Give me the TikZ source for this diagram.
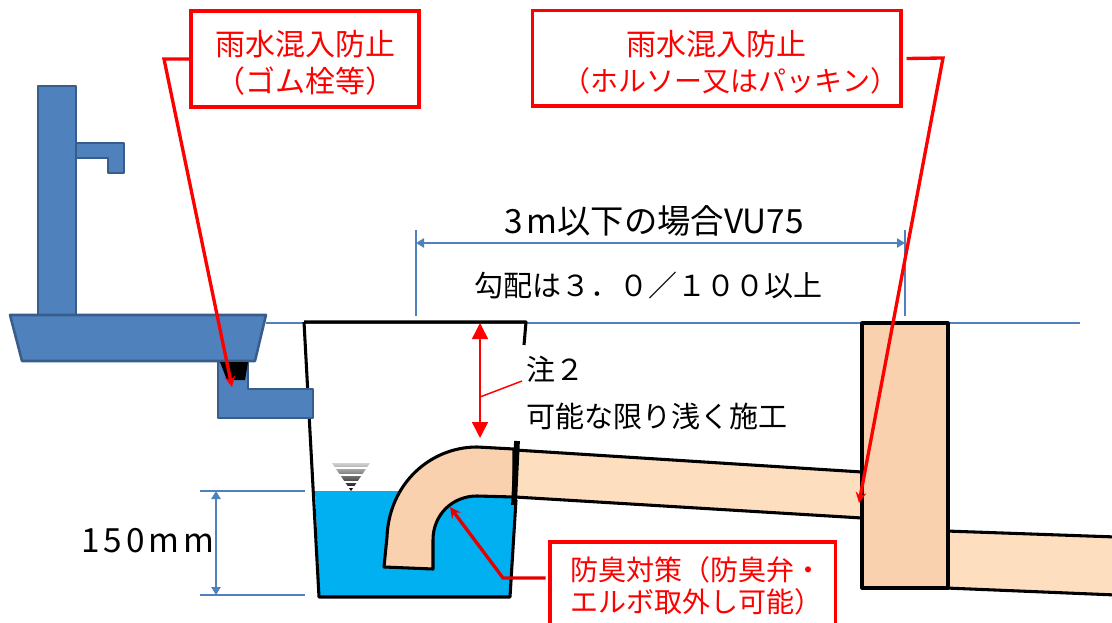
\documentclass[tikz,border=0pt]{standalone}
\usepackage{fontspec}
\setmainfont{Noto Sans CJK JP}
\newfontfamily\widefont[LetterSpace=12]{Noto Sans CJK JP}
\usetikzlibrary{arrows.meta}
\definecolor{faucetblue}{HTML}{4F81BD}
\definecolor{faucetedge}{HTML}{385D8A}
\definecolor{waterblue}{HTML}{00B0F0}
\definecolor{pipelight}{HTML}{FDDFBF}
\definecolor{pipedark}{HTML}{FAD1AF}
\tikzset{
>=stealth, % arrow heads of the leader lines
fixture/.style={draw=faucetedge, fill=faucetblue, line width=1.9pt, line join=round}, % faucet and basin
wall/.style={draw=black, line width=2.3pt, line join=round}, % black outlines
dimline/.style={draw=faucetblue, line width=1.1pt}, % thin blue lines
dimarrow/.style={dimline, {Triangle[length=6pt,width=7pt]}-{Triangle[length=6pt,width=7pt]}}, % blue dimension arrows
leader/.style={draw=red, line width=2.5pt, line join=miter}, % callout connectors
callout/.style={draw=red, line width=2.5pt, text=red, fill=white, align=center, inner sep=0pt}, % red boxes
label/.style={text=black, inner sep=0pt, font=\fontsize{21.75}{26}\selectfont}, % black texts
biglabel/.style={label, font=\fontsize{25}{29}\selectfont}, % the two dimension texts
}

\begin{document}
\begin{tikzpicture}[x=.75pt, y=-.75pt]
\useasboundingbox (0,0) rectangle (1112,623);
\clip (0,0) rectangle (1112,623);
% named ends of the connectors
\coordinate (plug) at (232,387);
\coordinate (topA) at (164,59);
\coordinate (topB) at (943,58);
\coordinate (wallhit) at (859,503);
\coordinate (odorbend) at (503,578);
\coordinate (elbowhit) at (450,507);
\coordinate (rimL) at (266,323);
\coordinate (rimR) at (1080,323);
\coordinate (spanLtop) at (416,230);
\coordinate (spanLbot) at (416,316);
\coordinate (spanRtop) at (905,230);
\coordinate (spanRbot) at (905,316);
\coordinate (spanL) at (416,243);
\coordinate (spanR) at (905,243);
\coordinate (levelL) at (200,491);
\coordinate (levelR) at (305,491);
\coordinate (floorL) at (200,595);
\coordinate (floorR) at (305,595);
\coordinate (depthA) at (216,491);
\coordinate (depthB) at (216,595);
\coordinate (coverA) at (480,323);
\coordinate (coverB) at (480,438);
\coordinate (coverM) at (480,397);
\coordinate (noteend) at (522,381);

% water and reference lines
\fill[waterblue] (315,491) -- (515,491) -- (510,597) -- (320,597) -- cycle;
\draw[dimline] (rimL) -- (rimR);
\draw[dimline] (spanLtop) -- (spanLbot);
\draw[dimline] (spanRtop) -- (spanRbot);
\draw[dimarrow] (spanL) -- (spanR);
\draw[dimline] (levelL) -- (levelR);
\draw[dimline] (floorL) -- (floorR);
\draw[dimarrow] (depthA) -- (depthB);

% water level mark
\shade[top color=gray!35, bottom color=black] (332,463) -- (370,463) -- (351,491) -- cycle;
\foreach \y in {468,475,482,487}
  \draw[white, line width=1.1pt] (330,\y) -- (372,\y);

% tank
\draw[wall] (304,322) -- (319,597) -- (510,597) -- (516,500);
\draw[wall] (524,345) -- (526,322) -- (304,322);

% pipes and manhole wall
\draw[wall, fill=pipelight] (946,531) -- (1116,537) -- (1116,595) -- (946,588);
\draw[wall, fill=pipelight] (515,450) -- (862,472) -- (862,518) -- (515,497);
\draw[wall, fill=pipedark] (862,323) rectangle (948,588);
\draw[wall, fill=pipedark] (384,567) -- (387,537) .. controls (389,484) and (430,447) .. (477,447)
  -- (514,449) -- (514,497) -- (477,496) .. controls (452,496) and (433,515) .. (433,540) -- (433,569) -- cycle;
\draw[black, line width=4.3pt] (517,441) -- (514,505);

% faucet and basin
\draw[fixture] (76,143) -- (124,143) -- (124,173) -- (108,173) -- (108,158) -- (76,158) -- cycle;
\draw[fixture] (38,86) rectangle (76,315);
\draw[fixture] (10,315) -- (266,315) -- (255,361) -- (22,361) -- cycle;
\draw[fixture] (218,362) -- (248,362) -- (248,389) -- (313,389) -- (313,418) -- (218,418) -- cycle;
\fill[black] (220,362) -- (248,362) -- (245,380) -- (227,380) -- cycle;

% callouts
\node[callout, minimum width=171pt, minimum height=72pt, font=\fontsize{22.5}{27.75}\selectfont] (callA) at (305,59) {\rule{0pt}{24pt}雨水混入防止\\（ゴム栓等）};
\node[callout, minimum width=276.5pt, minimum height=71.5pt, font=\fontsize{22.5}{27}\selectfont] (callB) at (716.5,58.5) {\rule{0pt}{24pt}雨水混入防止\\\fontsize{21}{27}\selectfont　（ホルソー又はパッキン）};
\node[callout, minimum width=214pt, minimum height=66pt, font=\fontsize{21}{24}\selectfont] (odor) at (692.5,586) {\hspace*{6pt}防臭対策（防臭弁・\\\hspace*{6pt}エルボ取外し可能）};
\draw[leader, ->] (callA.west) -- (topA) -- (plug);
\draw[leader, ->] ([xshift=3pt]callB.east) -- (topB) -- (wallhit);
\draw[leader, ->, draw=red!90!black] ([xshift=-2pt]odor.west |- odorbend) -- (odorbend) -- (elbowhit);

% cover depth
\draw[red, line width=1.1pt, {Triangle[length=12pt,width=12pt]}-{Triangle[length=12pt,width=12pt]}] (coverA) -- (coverB);
\draw[red, line width=1.1pt] (coverM) -- (noteend);

% texts
\node[biglabel] (span) at (654,221) {{\widefont 3m}以下の場合VU75};
\node[label] (slope) at (648,285) {勾配は３．０／１００以上};
\node[label, anchor=west] (note) at (526,369) {注２};
\node[label, anchor=west] (shallow) at (526,416) {可能な限り浅く施工};
\node[biglabel] (depth) at (148,541) {{\widefont 150mm}};
\end{tikzpicture}
\end{document}
